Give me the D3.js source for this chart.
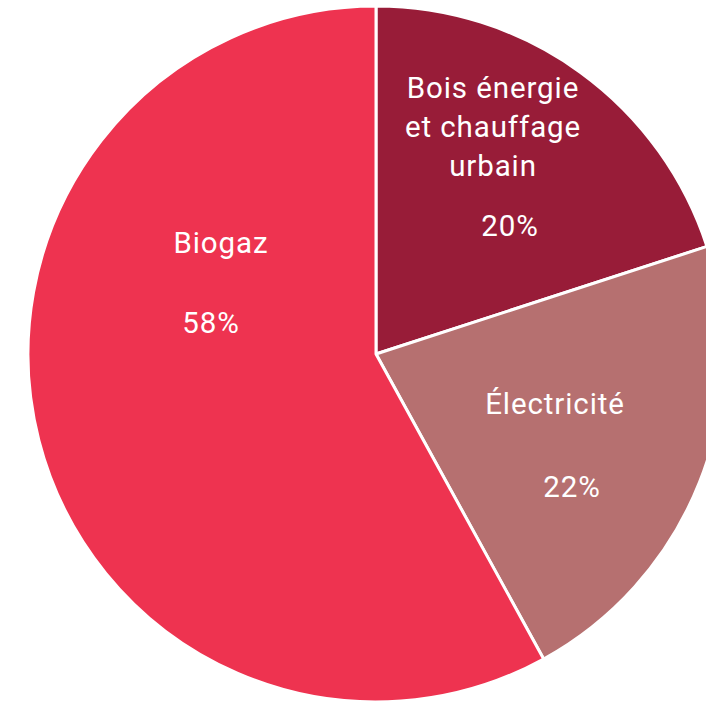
<!DOCTYPE html>
<html>
<head>
<meta charset="utf-8">
<script src="https://cdn.jsdelivr.net/npm/d3@7"></script>
<style>
  html, body { margin: 0; padding: 0; background: #fff; overflow: hidden; }
  svg { display: block; }
  .lbl { font-family: Roboto, "DejaVu Sans", sans-serif; font-size: 29.5px; letter-spacing: 0.9px; fill: #fff; }
</style>
</head>
<body>
<svg></svg>
<script>
let categories = ['Bois énergie et chauffage urbain', 'Électricité', 'Biogaz']
let values = [20, 22, 58]
let labelLines = [['Bois énergie', 'et chauffage', 'urbain'], ['Électricité'], ['Biogaz']]
let colors = ['#981c38', '#b67070', '#ee3350']

// label placement (offsets from pie centre), not data
let labelLayout = [
    { x: 117, y: -256, pct: { x: 134, y: -118 }, lh: 39 },
    { x: 179, y: 60, pct: { x: 196, y: 143 }, lh: 39 },
    { x: -155, y: -101, pct: { x: -165, y: -21 }, lh: 39 }
]

let width = 706
let height = 704
let cx = 376
let cy = 354
let radius = 348

let svg = d3.select('svg')
    .attr('width', width)
    .attr('height', height)

let g = svg.append('g')
    .attr('transform', 'translate(' + cx + ',' + cy + ')')

let pie = d3.pie().sort(null).value((d) => d)
let arcs = pie(values)

let arc = d3.arc().innerRadius(0).outerRadius(radius)

g.selectAll('path')
    .data(arcs)
    .enter()
    .append('path')
    .attr('d', arc)
    .attr('fill', (d, i) => colors[i])
    .attr('stroke', '#fff')
    .attr('stroke-width', 3)
    .attr('stroke-linejoin', 'round')

arcs.forEach((d, i) => {
    let lay = labelLayout[i]
    let t = g.append('text')
        .attr('class', 'lbl')
        .attr('text-anchor', 'middle')
    labelLines[i].forEach((line, j) => {
        t.append('tspan')
            .attr('x', lay.x)
            .attr('y', lay.y + j * lay.lh)
            .text(line)
    })
    g.append('text')
        .attr('class', 'lbl')
        .attr('text-anchor', 'middle')
        .attr('x', lay.pct.x)
        .attr('y', lay.pct.y)
        .text(values[i] + '%')
})
</script>
</body>
</html>
